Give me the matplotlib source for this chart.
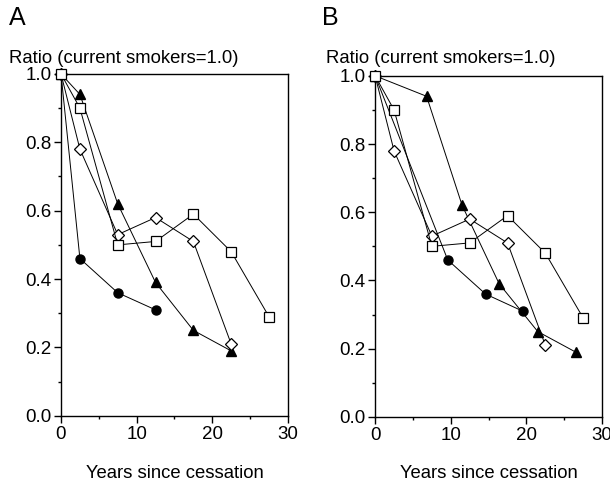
import numpy as np
import matplotlib.pyplot as plt
from matplotlib.ticker import MultipleLocator

plt.rcParams['font.family'] = ['Liberation Sans', 'DejaVu Sans']

# Panel A
a_circle_x = [0, 2.5, 7.5, 12.5]
a_circle_y = [1.0, 0.46, 0.36, 0.31]
a_tri_x = [0, 2.5, 7.5, 12.5, 17.5, 22.5]
a_tri_y = [1.0, 0.94, 0.62, 0.39, 0.25, 0.19]
a_sq_x = [0, 2.5, 7.5, 12.5, 17.5, 22.5, 27.5]
a_sq_y = [1.0, 0.90, 0.50, 0.51, 0.59, 0.48, 0.29]
a_dia_x = [0, 2.5, 7.5, 12.5, 17.5, 22.5]
a_dia_y = [1.0, 0.78, 0.53, 0.58, 0.51, 0.21]

# Panel B
b_circle_x = [0, 9.6, 14.6, 19.5]
b_circle_y = [1.0, 0.46, 0.36, 0.31]
b_tri_x = [0, 6.8, 11.5, 16.4, 21.5, 26.5]
b_tri_y = [1.0, 0.94, 0.62, 0.39, 0.25, 0.19]
b_sq_x = [0, 2.5, 7.5, 12.5, 17.5, 22.5, 27.5]
b_sq_y = [1.0, 0.90, 0.50, 0.51, 0.59, 0.48, 0.29]
b_dia_x = [0, 2.5, 7.5, 12.5, 17.5, 22.5]
b_dia_y = [1.0, 0.78, 0.53, 0.58, 0.51, 0.21]


def draw_panel(ax, circ, tri, sq, dia):
    lw = 0.7
    ax.plot(*circ, color='black', lw=lw, marker='o', ms=6.5,
            mfc='black', mec='black', zorder=3)
    ax.plot(*tri, color='black', lw=lw, marker='^', ms=6.5,
            mfc='black', mec='black', zorder=3)
    ax.plot(*dia, color='black', lw=lw, marker='D', ms=6,
            mfc='white', mec='black', mew=0.9, zorder=4)
    ax.plot(*sq, color='black', lw=lw, marker='s', ms=7,
            mfc='white', mec='black', mew=0.9, zorder=5)
    ax.set_xlim(0, 30)
    ax.set_ylim(0, 1.0)
    ax.xaxis.set_major_locator(MultipleLocator(10))
    ax.xaxis.set_minor_locator(MultipleLocator(5))
    ax.yaxis.set_major_locator(MultipleLocator(0.2))
    ax.yaxis.set_minor_locator(MultipleLocator(0.1))
    ax.yaxis.set_major_formatter(plt.FuncFormatter(lambda v, p: f"{v:.1f}"))
    ax.tick_params(which='major', direction='out', length=5, width=1,
                   labelsize=13.5, pad=2)
    ax.tick_params(which='minor', direction='out', length=2.5, width=1)
    for s in ax.spines.values():
        s.set_linewidth(1)
    for line in ax.lines:
        line.set_clip_on(False)


fig = plt.figure(figsize=(6.1, 4.83), dpi=100)
axA = fig.add_axes([0.100, 0.139, 0.372, 0.708])
axB = fig.add_axes([0.615, 0.137, 0.372, 0.706])

draw_panel(axA, (a_circle_x, a_circle_y), (a_tri_x, a_tri_y),
           (a_sq_x, a_sq_y), (a_dia_x, a_dia_y))
draw_panel(axB, (b_circle_x, b_circle_y), (b_tri_x, b_tri_y),
           (b_sq_x, b_sq_y), (b_dia_x, b_dia_y))

for x0, lab in [(0.015, 'A'), (0.528, 'B')]:
    fig.text(x0, 0.948, lab, fontsize=18, ha='left', va='baseline')
for x0 in (0.015, 0.535):
    fig.text(x0, 0.870, 'Ratio (current smokers=1.0)', fontsize=13.3,
             ha='left', va='baseline')
for ax in (axA, axB):
    pos = ax.get_position()
    fig.text((pos.x0 + pos.x1) / 2, 0.011, 'Years since cessation',
             fontsize=13.3, ha='center', va='baseline')

fig.savefig('out.png', dpi=100)
